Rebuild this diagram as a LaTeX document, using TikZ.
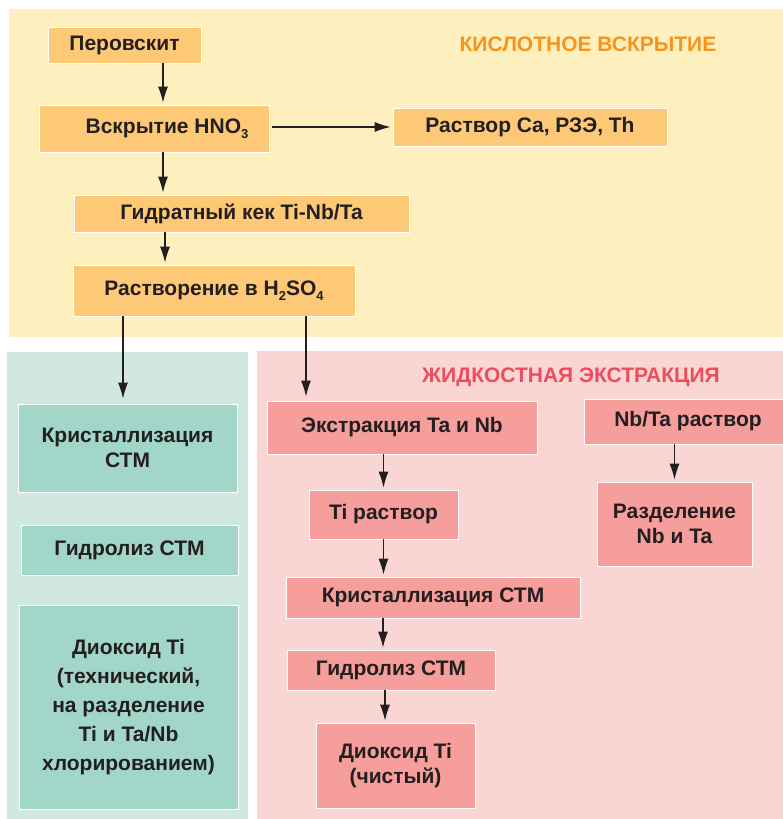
\documentclass[tikz,border=0pt]{standalone}
\usepackage{fontspec}
\setmainfont{Liberation Sans}
\usetikzlibrary{arrows.meta, positioning}

\definecolor{gelbbg}{HTML}{FEF0BE}
\definecolor{gelbbox}{HTML}{FEC977}
\definecolor{gruenbg}{HTML}{D0E8DE}
\definecolor{gruenbox}{HTML}{A2D6C9}
\definecolor{rosabg}{HTML}{F9D6D3}
\definecolor{rosabox}{HTML}{F59E9C}
\definecolor{titelorange}{HTML}{F7941D}
\definecolor{titelrot}{HTML}{EE4C5C}
\definecolor{schrift}{HTML}{231F20}

% kleiner tiefgestellter Index
\newcommand{\idx}[1]{{\fontsize{13}{13}\selectfont\raisebox{-5pt}{#1}}}

\tikzset{
  kasten/.style={draw=white, line width=0.8pt, text=schrift, align=center,
    inner sep=0pt, font=\bfseries\fontsize{21}{25}\selectfont},
  obox/.style={kasten, fill=gelbbox},
  gbox/.style={kasten, fill=gruenbox},
  pbox/.style={kasten, fill=rosabox},
  titel/.style={font=\bfseries\fontsize{21}{24}\selectfont},
  pfeil/.style={-{Latex[length=16pt,width=10pt]}, line width=1.1pt, schrift, shorten >=2pt}
}

\begin{document}
\begin{tikzpicture}[x=1pt, y=-1pt]
\useasboundingbox (0,0) rectangle (783,819);

% Hintergrundflaechen
\fill[gelbbg] (9,9) rectangle (783,337);
\fill[gruenbg] (7,352) rectangle (248,819);
\fill[rosabg] (257,351) rectangle (783,819);

% Ueberschriften
\node[titel, text=titelorange] (t1) at (588,44) {КИСЛОТНОЕ ВСКРЫТИЕ};
\node[titel, text=titelrot] (t2) at (571,377) {ЖИДКОСТНАЯ ЭКСТРАКЦИЯ};

% Kaesten oben
\node[obox, minimum width=153pt, minimum height=36pt] (per) at (124.5,45) {Перовскит};
\node[obox, minimum width=230pt, minimum height=47pt] (hno) at (154,128.5) {\hspace*{26pt}Вскрытие HNO\idx{3}};
\node[obox, minimum width=274pt, minimum height=38pt] (ca) at (530,127) {Раствор Ca, РЗЭ, Th};
\node[obox, minimum width=335pt, minimum height=37pt] (gk) at (241.5,213.5) {Гидратный кек Ti-Nb/Ta};
\node[obox, minimum width=282pt, minimum height=51pt] (rast) at (214,290.5) {Растворение в H\idx{2}SO\idx{4}};

% Kaesten links
\node[gbox, minimum width=219pt, minimum height=88pt] (k1) at (127.5,448) {Кристаллизация\\СТМ};
\node[gbox, minimum width=217pt, minimum height=50pt] (g1) at (129.5,550) {Гидролиз СТМ};
\node[gbox, minimum width=219pt, minimum height=204pt,
  font=\bfseries\fontsize{21}{29}\selectfont] (d1) at (128.5,707)
  {Диоксид Ti\\(технический,\\на разделение\\Ti и Ta/Nb\\хлорированием)};

% Kaesten rechts
\node[pbox, minimum width=270pt, minimum height=53pt] (ex) at (402,427.5) {Экстракция Ta и Nb};
\node[pbox, minimum width=216pt, minimum height=45pt] (nbta) at (692,421.5) {\hspace*{-8pt}Nb/Ta раствор};
\node[pbox, minimum width=155pt, minimum height=84pt] (razd) at (674.5,524) {Разделение\\Nb и Ta};
\node[pbox, minimum width=149pt, minimum height=49pt] (ti) at (383.5,514.5) {Ti раствор};
\node[pbox, minimum width=294pt, minimum height=41pt] (k2) at (433,597.5) {Кристаллизация СТМ};
\node[pbox, minimum width=208pt, minimum height=40pt] (g2) at (391,670) {Гидролиз СТМ};
\node[pbox, minimum width=159pt, minimum height=85pt] (d2) at (395.5,765.5) {Диоксид Ti\\(чистый)};

% Verbindungen oben
\draw[pfeil] ([xshift=9pt]hno.north |- per.south) -- ([xshift=9pt]hno.north);
\draw[pfeil, shorten <=3pt] (hno.east |- ca.west) -- (ca.west);
\draw[pfeil] ([xshift=9pt]hno.south) -- ([xshift=9pt]hno.south |- gk.north);
\draw[pfeil] ([xshift=-49pt]rast.north |- gk.south) -- ([xshift=-49pt]rast.north);

% Verbindungen nach unten
\draw[pfeil, shorten >=5pt] ([xshift=-91pt]rast.south) -- ([xshift=-4.5pt]k1.north);
\draw[pfeil, shorten >=4pt] ([xshift=92pt]rast.south) -- ([xshift=-96pt]ex.north);

% Verbindungen Extraktion
\draw[pfeil] (ti.north |- ex.south) -- (ti.north);
\draw[pfeil] (ti.south) -- (ti.south |- k2.north);
\draw[pfeil] ([xshift=-8pt]g2.north |- k2.south) -- ([xshift=-8pt]g2.north);
\draw[pfeil] ([xshift=-6pt]g2.south) -- ([xshift=-6pt]g2.south |- d2.north);
\draw[pfeil] (razd.north |- nbta.south) -- (razd.north);

\end{tikzpicture}
\end{document}
